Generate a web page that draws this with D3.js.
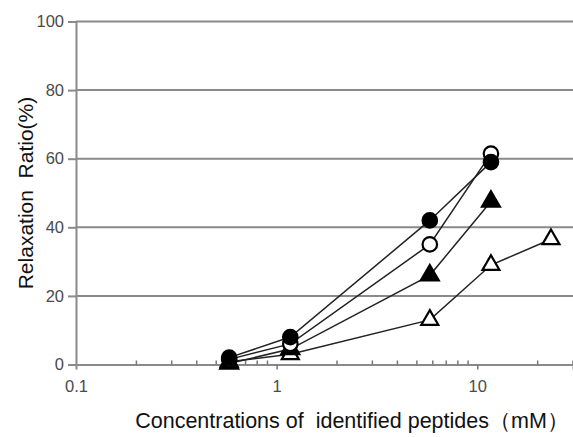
<!DOCTYPE html>
<html>
<head>
<meta charset="utf-8">
<script src="https://cdn.jsdelivr.net/npm/d3@7"></script>
<style>
  body { margin: 0; background: #fff; }
  svg { display: block; font-family: "Liberation Sans", Arial, sans-serif; }
  text { white-space: pre; }
</style>
</head>
<body>
<div id="chart"></div>
<script>
"use strict";

// concentrations (mM)
const conc = [0.58, 1.17, 5.8, 11.7, 23.3];
const filledCircle = [2, 8, 42, 59];
const openCircle = [1.5, 6, 35, 61.5];
const filledTriangle = [0.3, 4.5, 26, 47.5];
const openTriangle = [0.8, 3, 13, 29, 36.5];
const yTicks = [0, 20, 40, 60, 80, 100];
const xTickLabels = [0.1, 1, 10];

const WIDTH = 573, HEIGHT = 437;
const svg = d3.select("#chart").append("svg")
    .attr("width", WIDTH)
    .attr("height", HEIGHT);

let x = d3.scaleLog().domain([0.1, 30]).range([76, 573]);
let y = d3.scaleLinear().domain([0, 100]).range([364.5, 21.5]);

// horizontal grid
svg.append("g")
   .selectAll("line")
   .data(yTicks.filter(d => d > 0))
   .join("line")
   .attr("x1", 76).attr("x2", WIDTH)
   .attr("y1", d => y(d)).attr("y2", d => y(d))
   .attr("stroke", "#8a8a8a").attr("stroke-width", 2);

// y axis
let yAxis = svg.append("g")
   .attr("transform", "translate(76,0)")
   .call(d3.axisLeft(y).tickValues(yTicks).tickSize(8).tickPadding(4));
yAxis.select(".domain").attr("stroke", "#8a8a8a").attr("stroke-width", 2);
yAxis.selectAll(".tick line").attr("stroke", "#8a8a8a").attr("stroke-width", 2);
yAxis.selectAll("text").attr("font-size", 16.5).attr("fill", "#4a4a4a")
     .attr("font-family", "Liberation Sans, Arial, sans-serif");

// x axis: minor ticks above, major below
let minor = [];
for (let dec of [0.1, 1, 10])
    for (let k = 2; k <= 9; k++)
        if (dec * k <= 30) minor.push(dec * k);

let xAxis = svg.append("g")
   .attr("transform", "translate(0," + y(0) + ")")
   .call(d3.axisBottom(x).tickValues(xTickLabels).tickFormat(d3.format("")).tickSize(5).tickPadding(11));
xAxis.select(".domain").attr("stroke", "#8a8a8a").attr("stroke-width", 2);
xAxis.selectAll(".tick line").attr("stroke", "#777").attr("stroke-width", 1.5);
xAxis.selectAll(".tick").filter(d => d === 0.1).select("line").remove();
xAxis.selectAll("text").attr("font-size", 16.5).attr("fill", "#4a4a4a")
     .attr("font-family", "Liberation Sans, Arial, sans-serif");

svg.append("g")
   .selectAll("line")
   .data(minor)
   .join("line")
   .attr("x1", d => x(d)).attr("x2", d => x(d))
   .attr("y1", y(0)).attr("y2", y(0) - 4)
   .attr("stroke", "#777").attr("stroke-width", 1.5);

// series
const series = [
    {values: filledCircle, shape: d3.symbolCircle, size: 165, fill: "#000"},
    {values: openCircle, shape: d3.symbolCircle, size: 165, fill: "#fff"},
    {values: filledTriangle, shape: d3.symbolTriangle, size: 140, fill: "#000"},
    {values: openTriangle, shape: d3.symbolTriangle, size: 125, fill: "#fff"}
];

let line = d3.line()
    .x((d, i) => x(conc[i]))
    .y(d => y(d));

svg.append("g")
   .selectAll("path")
   .data(series)
   .join("path")
   .attr("d", s => line(s.values))
   .attr("fill", "none")
   .attr("stroke", "#222")
   .attr("stroke-width", 1.5);

series.slice().reverse().forEach(s =>
{
    svg.append("g")
       .selectAll("path")
       .data(s.values)
       .join("path")
       .attr("transform", (d, i) => "translate(" + x(conc[i]) + "," + y(d) + ")")
       .attr("d", d3.symbol().type(s.shape).size(s.size))
       .attr("fill", s.fill)
       .attr("stroke", "#000")
       .attr("stroke-width", 2.2);
});

// titles
svg.append("text")
   .attr("x", 352).attr("y", 428)
   .attr("text-anchor", "middle")
   .attr("font-size", 21.5).attr("fill", "#111")
   .text("Concentrations of  identified peptides（mM）");

svg.append("text")
   .attr("transform", "translate(33,193) rotate(-90)")
   .attr("text-anchor", "middle")
   .attr("font-size", 21).attr("fill", "#111")
   .text("Relaxation  Ratio(%)");
</script>
</body>
</html>
